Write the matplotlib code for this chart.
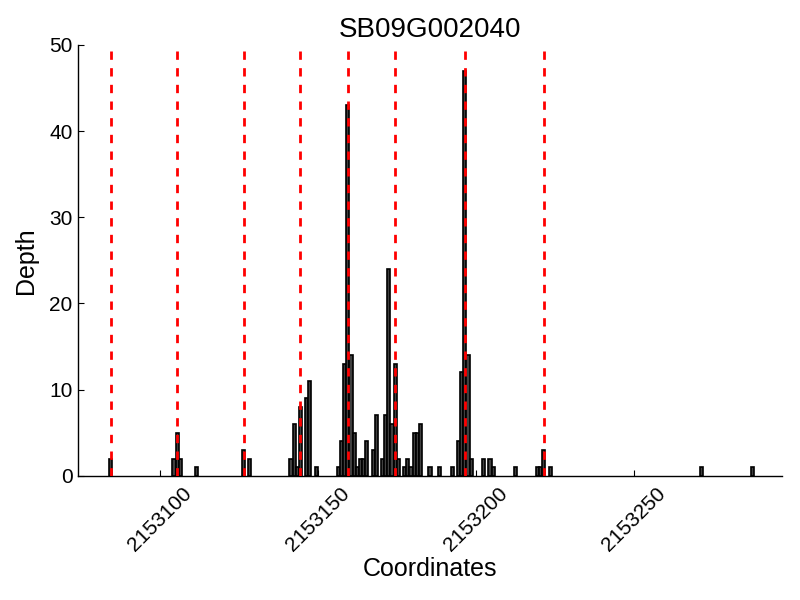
import matplotlib
matplotlib.use('Agg')
import matplotlib.pyplot as plt
from matplotlib.ticker import MultipleLocator

plt.rcParams['font.family'] = ['Liberation Sans', 'DejaVu Sans']

# 基因名稱與座標
gene = 'SB09G002040'
base = 2153000

# 每個位置的覆蓋深度 (offset from base)
positions = [84,
             104, 105, 106, 111,
             126, 128,
             141, 142, 143, 144, 146, 147, 149,
             156, 157, 158, 159, 160, 161, 162, 163, 164, 165, 167, 168,
             170, 171, 172, 173, 174, 175, 177, 178, 179, 180, 181, 182,
             185, 188, 192, 194, 195, 196, 197, 198,
             202, 204, 205, 212, 219, 220, 221, 223,
             271, 287]
depths = [2,
          2, 5, 2, 1,
          3, 2,
          2, 6, 1, 8, 9, 11, 1,
          1, 4, 13, 43, 14, 5, 1, 2, 2, 4, 3, 7,
          2, 7, 24, 6, 13, 2, 1, 2, 1, 5, 5, 6,
          1, 1, 1, 4, 12, 47, 14, 2,
          2, 2, 1, 1, 1, 1, 3, 1,
          1, 1]

# 紅色虛線標記位置
marks = [84, 105, 126, 144, 159, 174, 196, 221]

xs = [base + p for p in positions]
mark_xs = [base + m + 0.5 for m in marks]

fig = plt.figure(figsize=(8, 6), dpi=100)
ax = fig.add_axes([0.097, 0.207, 0.881, 0.718])

ax.bar(xs, depths, width=1, align='edge', color='#404040',
       edgecolor='black', linewidth=1.2, zorder=2)
ax.vlines(mark_xs, 0, max(depths) * 1.05, colors='red',
          linestyles=(0, (3, 3)), linewidth=2, zorder=3)

ax.set_xlim(base + 74, base + 297)
ax.set_ylim(0, 50)
ax.xaxis.set_major_locator(MultipleLocator(50))
ax.yaxis.set_major_locator(MultipleLocator(10))
ax.ticklabel_format(axis='x', useOffset=False, style='plain')

for side in ['top', 'right']:
    ax.spines[side].set_visible(False)
ax.spines['left'].set_linewidth(1)
ax.spines['bottom'].set_linewidth(1)

ax.tick_params(direction='in', length=4, width=0.8, labelsize=15)
ax.tick_params(axis='x', pad=6)
plt.setp(ax.get_xticklabels(), rotation=45, ha='center')

ax.set_title(gene, fontsize=20)
ax.set_xlabel('Coordinates', fontsize=18, labelpad=1)
ax.set_ylabel('Depth', fontsize=18, labelpad=8)

plt.savefig('out.png', dpi=100)
plt.close()
